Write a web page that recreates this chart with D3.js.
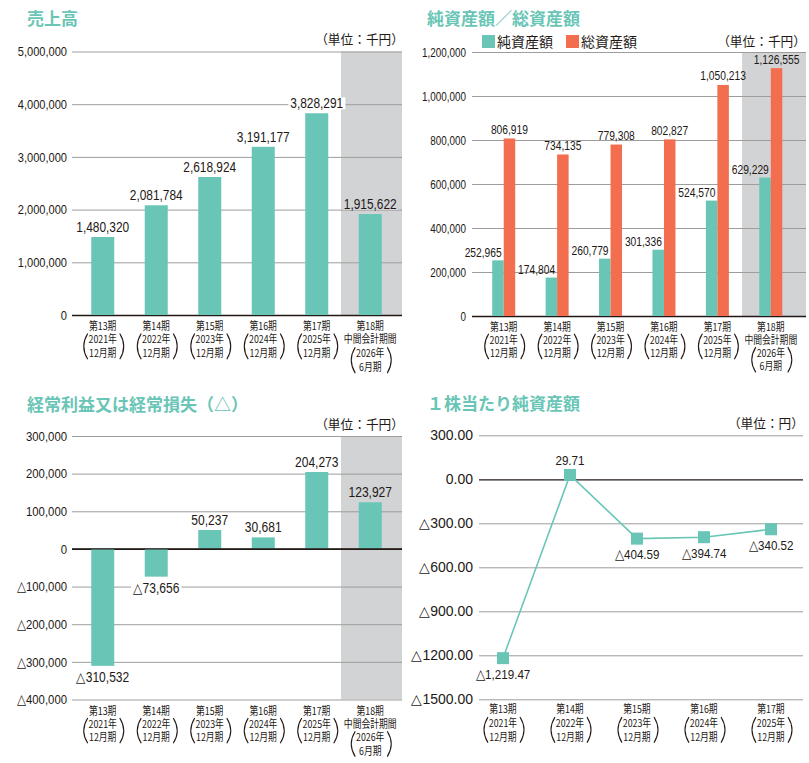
<!DOCTYPE html>
<html><head><meta charset="utf-8">
<script src="https://cdn.jsdelivr.net/npm/d3@7"></script>
<style>
body{margin:0;background:#fff;}
svg{display:block;}
</style></head><body><svg id="c" width="809" height="763"></svg>
<script>
// ---------- data ----------
const categories = ["第13期","第14期","第15期","第16期","第17期","第18期"];
const labelMid   = ["","","","","","中間会計期間"];
const labelYear  = ["2021年","2022年","2023年","2024年","2025年","2026年"];
const labelMonth = ["12月期","12月期","12月期","12月期","12月期","6月期"];

const sales          = [1480320, 2081784, 2618924, 3191177, 3828291, 1915622];
const netAssets      = [252965, 174804, 260779, 301336, 524570, 629229];
const totalAssets    = [806919, 734135, 779308, 802827, 1050213, 1126555];
const ordinaryIncome = [-310532, -73656, 50237, 30681, 204273, 123927];
const navCategories  = ["第13期","第14期","第15期","第16期","第17期"];
const navPerShare    = [-1219.47, 29.71, -404.59, -394.74, -340.52];

const salesTicks  = [0, 1000000, 2000000, 3000000, 4000000, 5000000];
const assetTicks  = [0, 200000, 400000, 600000, 800000, 1000000, 1200000];
const incomeTicks = [-400000, -300000, -200000, -100000, 0, 100000, 200000, 300000];
const navTicks    = [-1500, -1200, -900, -600, -300, 0, 300];

const titles = ["売上高", "純資産額／総資産額", "経常利益又は経常損失（△）", "１株当たり純資産額"];
const legendNames = ["純資産額", "総資産額"];
const unitThousand = "（単位：千円）";
const unitYen = "（単位：円）";

// ---------- style ----------
const TEAL = "#69c5b6", ORANGE = "#f26e4e", BAND = "#d2d3d5", GRID = "#9d9d9d", INK = "#231815";
const NUM = "'Liberation Sans',Arial,sans-serif";
const CJK = "'Noto Sans CJK JP',sans-serif";

const svg = d3.select("#c");

const tri = v => (v < 0 ? "△" : "");
const fmtInt = v => tri(v) + d3.format(",d")(Math.abs(v));
const fmtTick2 = v => tri(v) + d3.format(".2f")(Math.abs(v));
const fmtVal2 = v => tri(v) + d3.format(",.2f")(Math.abs(v));

function condense(sel, f) {
  sel.each(function () {
    const L = this.getComputedTextLength();
    this.setAttribute("textLength", L * f);
    this.setAttribute("lengthAdjust", "spacingAndGlyphs");
  });
}
function title(x, y, t) {
  svg.append("text").attr("x", x).attr("y", y).text(t)
    .style("font-family", CJK).style("font-size", "17px").style("font-weight", "bold").style("fill", TEAL);
}
function unit(x, y, t) {
  svg.append("text").attr("x", x).attr("y", y).attr("text-anchor", "end").text(t)
    .style("font-family", CJK).style("font-size", "12.7px").style("fill", INK);
}
function yAxis(y, ticks, x0, x1, pad, fmt, fs, squeeze) {
  const ax = svg.append("g").attr("transform", `translate(${x0},0)`)
    .call(d3.axisLeft(y).tickValues(ticks).tickSize(-(x1 - x0)).tickPadding(pad).tickFormat(fmt));
  ax.select(".domain").remove();
  ax.selectAll(".tick line").attr("stroke", d => d === 0 ? INK : GRID).attr("stroke-width", d => d === 0 ? 1.3 : 1);
  const tx = ax.selectAll(".tick text").style("font-family", NUM).style("font-size", fs + "px").style("fill", INK);
  if (squeeze < 1) condense(tx, squeeze);
  return ax;
}
function xLabels(cats, xc, y0, lh) {
  const g = svg.append("g");
  cats.forEach((c, i) => {
    const cx = xc(c, i);
    const lines = [c];
    if (labelMid[i]) lines.push(labelMid[i]);
    const pStart = lines.length;
    lines.push(labelYear[i], labelMonth[i]);
    const t = g.append("text").attr("transform", `translate(${cx},${y0 + 4}) scale(0.8,1)`)
      .attr("text-anchor", "middle")
      .style("font-family", CJK).style("font-size", "11px").style("fill", INK);
    lines.forEach((s, k) => t.append("tspan").attr("x", 0).attr("dy", k === 0 ? 0 : lh).text(s));
    const top = y0 + pStart * lh - 6, bot = y0 + (pStart + 1) * lh + 6, mid = (top + bot) / 2;
    g.append("path").attr("d", `M${cx - 15},${top} Q${cx - 23},${mid} ${cx - 15},${bot}`)
      .attr("fill", "none").attr("stroke", INK).attr("stroke-width", 1.1);
    g.append("path").attr("d", `M${cx + 17},${top} Q${cx + 25},${mid} ${cx + 17},${bot}`)
      .attr("fill", "none").attr("stroke", INK).attr("stroke-width", 1.1);
  });
}
function valueLabel(g, x, y, t, anchor, fs, squeeze, bg) {
  const tx = g.append("text").attr("x", x).attr("y", y).attr("text-anchor", anchor).text(t)
    .style("font-family", NUM).style("font-size", fs + "px").style("fill", INK);
  condense(tx, squeeze);
  if (bg) {
    const bb = tx.node().getBBox();
    g.insert("rect", () => tx.node()).attr("x", bb.x - 2).attr("y", y - fs * 0.78)
      .attr("width", bb.width + 4).attr("height", fs * 0.85).attr("fill", bg);
  }
}

// ================= Chart 1: 売上高 =================
{
  const x = d3.scaleBand().domain(categories).range([76, 397]);
  const y = d3.scaleLinear().domain([0, 5000000]).range([315, 51.5]);
  const gx0 = 72, gx1 = 402, barW = 23;
  title(27, 24.5, titles[0]);
  unit(404, 44, unitThousand);
  svg.append("rect").attr("x", x(categories[5]) - 2.5).attr("y", y(5000000))
    .attr("width", gx1 - x(categories[5]) + 2.5).attr("height", y(0) - y(5000000)).attr("fill", BAND);
  yAxis(y, salesTicks, gx0, gx1, 5, fmtInt, 13.5, 0.82);
  const g = svg.append("g");
  g.selectAll("rect").data(sales).join("rect")
    .attr("x", (d, i) => x(categories[i]) + x.bandwidth() / 2 - barW / 2)
    .attr("y", d => y(d)).attr("width", barW).attr("height", d => y(0) - y(d)).attr("fill", TEAL);
  sales.forEach((v, i) => valueLabel(g, x(categories[i]) + x.bandwidth() / 2, y(v) - 5, fmtInt(v), "middle", 14, 0.85, i === 5 ? BAND : "#fff"));
  xLabels(categories, c => x(c) + x.bandwidth() / 2, 325.7, 13.8);
}

// ================= Chart 2: 純資産額／総資産額 =================
{
  const x = d3.scaleBand().domain(categories).range([477, 797.5]);
  const y = d3.scaleLinear().domain([0, 1200000]).range([316, 52]);
  const gx0 = 472, gx1 = 806, barW = 11.5;
  title(427, 24.5, titles[1]);
  unit(806, 46, unitThousand);
  const lg = svg.append("g");
  [TEAL, ORANGE].forEach((c, k) => {
    const lx = 482 + k * 84;
    lg.append("rect").attr("x", lx).attr("y", 35).attr("width", 13).attr("height", 13).attr("fill", c);
    lg.append("text").attr("x", lx + 15).attr("y", 46.5).text(legendNames[k])
      .style("font-family", CJK).style("font-size", "14px").style("fill", INK);
  });
  svg.append("rect").attr("x", x(categories[5]) - 2).attr("y", y(1200000))
    .attr("width", gx1 - x(categories[5]) + 2).attr("height", y(0) - y(1200000)).attr("fill", BAND);
  yAxis(y, assetTicks, gx0, gx1, 6, fmtInt, 12.5, 0.79);
  const g = svg.append("g");
  const cx = c => x(c) + x.bandwidth() / 2;
  g.selectAll("rect.net").data(netAssets).join("rect").attr("class", "net")
    .attr("x", (d, i) => cx(categories[i]) - barW).attr("y", d => y(d))
    .attr("width", barW).attr("height", d => y(0) - y(d)).attr("fill", TEAL);
  g.selectAll("rect.tot").data(totalAssets).join("rect").attr("class", "tot")
    .attr("x", (d, i) => cx(categories[i])).attr("y", d => y(d))
    .attr("width", barW).attr("height", d => y(0) - y(d)).attr("fill", ORANGE);
  netAssets.forEach((v, i) => valueLabel(g, cx(categories[i]) - 2, y(v) - 3.5, fmtInt(v), "end", 12.5, 0.82, null));
  totalAssets.forEach((v, i) => valueLabel(g, cx(categories[i]) + barW / 2, y(v) - 4.5, fmtInt(v), "middle", 12.5, 0.82, null));
  xLabels(categories, c => cx(c), 326.5, 13.3);
}

// ================= Chart 3: 経常利益又は経常損失 =================
{
  const x = d3.scaleBand().domain(categories).range([76, 397]);
  const y = d3.scaleLinear().domain([-400000, 300000]).range([699.5, 436]);
  const gx0 = 72, gx1 = 402, barW = 23;
  title(27, 410.5, titles[2]);
  unit(404, 429, unitThousand);
  svg.append("rect").attr("x", x(categories[5]) - 2.5).attr("y", y(300000))
    .attr("width", gx1 - x(categories[5]) + 2.5).attr("height", y(-400000) - y(300000)).attr("fill", BAND);
  yAxis(y, incomeTicks, gx0, gx1, 5, fmtInt, 13.5, 0.84);
  const g = svg.append("g");
  g.selectAll("rect").data(ordinaryIncome).join("rect")
    .attr("x", (d, i) => x(categories[i]) + x.bandwidth() / 2 - barW / 2)
    .attr("y", d => y(Math.max(0, d))).attr("width", barW)
    .attr("height", d => Math.abs(y(d) - y(0))).attr("fill", TEAL);
  ordinaryIncome.forEach((v, i) => valueLabel(g, x(categories[i]) + x.bandwidth() / 2,
    v >= 0 ? y(v) - 5 : y(v) + 16, fmtInt(v), "middle", 14, 0.86, i === 5 ? BAND : "#fff"));
  svg.append("line").attr("x1", gx0).attr("x2", gx1).attr("y1", y(0)).attr("y2", y(0))
    .attr("stroke", INK).attr("stroke-width", 1.3);
  xLabels(categories, c => x(c) + x.bandwidth() / 2, 710.7, 13.3);
}

// ================= Chart 4: １株当たり純資産額 =================
{
  const x = d3.scalePoint().domain(navCategories).range([503, 771]);
  const y = d3.scaleLinear().domain([-1500, 300]).range([699.3, 435.3]);
  const gx0 = 479, gx1 = 803, sq = 12;
  title(427, 410, titles[3]);
  unit(804, 428, unitYen);
  yAxis(y, navTicks, gx0, gx1, 6, fmtTick2, 14, 1);
  const g = svg.append("g");
  const line = d3.line().x((d, i) => x(navCategories[i])).y(d => y(d));
  g.append("path").attr("d", line(navPerShare)).attr("fill", "none").attr("stroke", TEAL).attr("stroke-width", 1.6);
  g.selectAll("rect").data(navPerShare).join("rect")
    .attr("x", (d, i) => x(navCategories[i]) - sq / 2).attr("y", d => y(d) - sq / 2)
    .attr("width", sq).attr("height", sq).attr("fill", TEAL);
  navPerShare.forEach((v, i) => valueLabel(g, x(navCategories[i]), v >= 0 ? y(v) - 10 : y(v) + 20.5,
    fmtVal2(v), "middle", 13.5, 0.86, null));
  xLabels(navCategories, c => x(c), 709.3, 13.7);
}
</script></body></html>
